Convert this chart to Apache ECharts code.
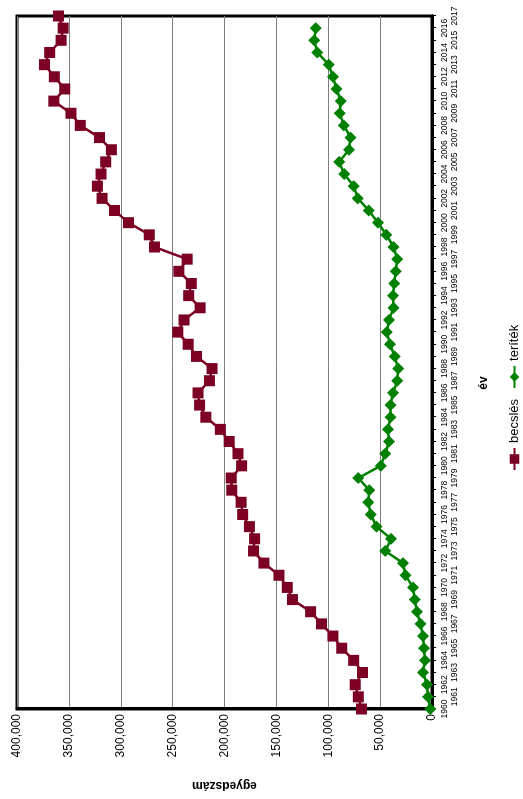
<!DOCTYPE html>
<html>
<head>
<meta charset="utf-8">
<script src="https://cdn.jsdelivr.net/npm/echarts@6/dist/echarts.min.js"></script>
<style>
  html, body { margin: 0; padding: 0; width: 523px; height: 799px; overflow: hidden; background: #fff; }
  /* The chart is laid out landscape and turned a quarter turn so the years run upwards */
  #chart {
    position: absolute; left: 0; top: 799px;
    width: 799px; height: 523px;
    transform-origin: 0 0;
    transform: rotate(-90deg);
  }
</style>
</head>
<body>
<div id="chart"></div>
<script>
// Years 1960–2017
const years = [];
for (let y = 1960; y <= 2017; y++) years.push(String(y));

// Estimated population (becslés)
const becsles = [
  68000, 71000, 74000, 67000, 75500, 87000, 95500, 106500, 117000, 134500,
  139500, 147500, 162000, 172000, 171000, 176000, 182500, 184000, 193000, 193500,
  183500, 187000, 195500, 204000, 218000, 224000, 225500, 214500, 212000, 227000,
  235000, 245000, 239000, 223500, 234500, 232000, 244000, 236000, 267500, 272500,
  292500, 306000, 318000, 322500, 319000, 314500, 309000, 320500, 339000, 348000,
  364500, 354000, 364000, 373500, 368500, 357500, 355500, 360000
];

// Harvest (teríték); no figure for 2017
const teritek = [
  1600, 3800, 4800, 8700, 6700, 7700, 8700, 11200, 14400, 16700,
  18300, 25600, 28000, 45000, 39500, 53500, 59000, 61500, 60500, 71000,
  49500, 45000, 41500, 42500, 40000, 40000, 37500, 33500, 32500, 36000,
  40500, 43500, 41500, 37000, 37500, 36500, 35000, 33500, 37000, 44000,
  52000, 61000, 71500, 75500, 84500, 89500, 80000, 78500, 85000, 89000,
  88000, 92000, 95500, 99500, 110500, 113500, 112000, null
];

// Value axis ticks
const valueTicks = { min: 0, max: 400000, interval: 50000 };

const font = '"Liberation Sans", Arial, sans-serif';
const chart = echarts.init(document.getElementById('chart'), null, { renderer: 'canvas' });

chart.setOption({
  animation: false,
  backgroundColor: '#fff',
  textStyle: { fontFamily: font },
  grid: {
    left: 90, right: 16, top: 17, bottom: 91,
    show: true, borderColor: '#000', borderWidth: 3, backgroundColor: 'transparent'
  },
  legend: {
    left: 326, top: 506,
    itemWidth: 22, itemHeight: 12, itemGap: 10,
    padding: 2,
    textStyle: { fontFamily: font, fontSize: 13, color: '#000' },
    data: ['becslés', 'teríték']
  },
  xAxis: {
    type: 'category',
    data: years,
    boundaryGap: false,
    name: 'év',
    nameLocation: 'middle',
    nameGap: 46,
    nameTextStyle: { fontFamily: font, fontSize: 12, fontWeight: 'bold', color: '#000', padding: [0, 41, 0, 0] },
    axisLine: { lineStyle: { color: '#000', width: 3 } },
    axisTick: { show: true, inside: false, length: 4, lineStyle: { color: '#000', width: 1 } },
    axisLabel: {
      interval: 0,
      margin: 8,
      fontFamily: font,
      fontSize: 8.5,
      lineHeight: 10,
      color: '#000',
      formatter: (v, i) => (i % 2 === 1 ? '\n' + v : v)
    },
    splitLine: { show: false }
  },
  yAxis: {
    type: 'value',
    min: valueTicks.min,
    max: valueTicks.max,
    interval: valueTicks.interval,
    name: 'egyedszám',
    nameLocation: 'middle',
    nameGap: 70,
    nameTextStyle: { fontFamily: font, fontSize: 12, fontWeight: 'bold', color: '#000' },
    axisLine: { show: true, lineStyle: { color: '#000', width: 3 } },
    axisTick: { show: false },
    axisLabel: {
      margin: 5,
      fontFamily: font,
      fontSize: 12,
      color: '#000',
      formatter: v => v.toLocaleString('en-US')
    },
    splitLine: { show: true, lineStyle: { color: '#7f7f7f', width: 1 } }
  },
  series: [
    {
      name: 'becslés',
      type: 'line',
      data: becsles,
      symbol: 'rect',
      symbolSize: 11,
      color: '#7B0023',
      lineStyle: { width: 2.5, color: '#7B0023' },
      itemStyle: { color: '#7B0023' },
      z: 3
    },
    {
      name: 'teríték',
      type: 'line',
      data: teritek,
      symbol: 'diamond',
      symbolSize: 12,
      color: '#008000',
      lineStyle: { width: 2.5, color: '#008000' },
      itemStyle: { color: '#008000' },
      z: 2
    }
  ]
});
</script>
</body>
</html>
